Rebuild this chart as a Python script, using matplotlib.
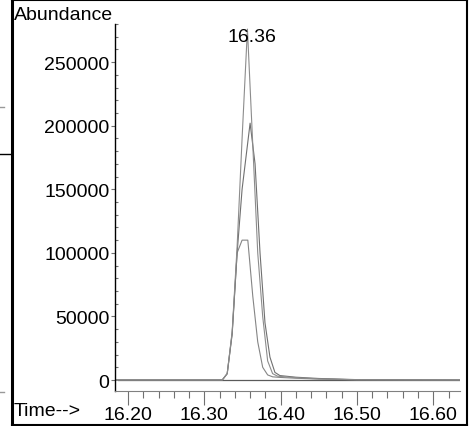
import matplotlib

matplotlib.use("Agg")
import matplotlib.pyplot as plt
from matplotlib.lines import Line2D
from matplotlib.ticker import MultipleLocator

plt.rcParams["font.family"] = ["Liberation Sans", "DejaVu Sans"]

# extracted ion traces: scan time (min) and abundance
tall_t = [16.183, 16.3235, 16.3300, 16.3365, 16.3430, 16.3495, 16.3565,
          16.3635, 16.3700, 16.3765, 16.3830, 16.3895, 16.3960, 16.420,
          16.450, 16.500, 16.635]
tall_y = [0, 0, 5000, 38000, 105000, 190000, 276000,
          185000, 100000, 50000, 15000, 5000, 3000, 1800,
          900, 200, 0]
mid_t = [16.183, 16.3235, 16.3300, 16.3365, 16.3430, 16.3495, 16.3600,
         16.3665, 16.3730, 16.3795, 16.3860, 16.3925, 16.3990, 16.420,
         16.450, 16.500, 16.635]
mid_y = [0, 0, 5000, 36000, 100000, 150000, 202000,
         170000, 100000, 45000, 18000, 6000, 3500, 2200,
         1200, 300, 0]
low_t = [16.183, 16.3235, 16.3300, 16.3365, 16.3430, 16.3495, 16.3570,
         16.3635, 16.3700, 16.3765, 16.3830, 16.3895, 16.4000, 16.420,
         16.450, 16.500, 16.635]
low_y = [0, 0, 5000, 37000, 100000, 110000, 110000,
         66000, 30000, 10000, 4000, 2500, 2000, 1400,
         700, 200, 0]
peak_label = "16.36"
peak_time = 16.363
peak_height = 270000

fig = plt.figure(figsize=(4.69, 4.27), dpi=100)
ax = fig.add_axes([115 / 469, 35 / 427, 345 / 469, 367 / 427])

ax.axhline(0, xmin=0.01, color="#5a5a5a", lw=0.9)
ax.plot(low_t, low_y, color="#858585", lw=0.8)
ax.plot(mid_t, mid_y, color="#707070", lw=0.8)
ax.plot(tall_t, tall_y, color="#8c8c8c", lw=0.8)
ax.text(peak_time, peak_height, peak_label, ha="center", va="center", fontsize=14)

ax.set_xlim(16.183, 16.635)
ax.set_ylim(-8650, 280000)
ax.xaxis.set_minor_locator(MultipleLocator(0.02))
ax.yaxis.set_minor_locator(MultipleLocator(10000))
ax.set_xticks([16.2, 16.3, 16.4, 16.5, 16.6], ["16.20", "16.30", "16.40", "16.50", "16.60"])
ax.set_yticks([0, 50000, 100000, 150000, 200000, 250000],
              ["0", "50000", "100000", "150000", "200000", "250000"])
ax.tick_params(axis="x", which="major", length=10, width=0.8, color="#707070", labelsize=14, pad=1)
ax.tick_params(axis="x", which="minor", length=5, width=0.8, color="#707070")
ax.tick_params(axis="y", which="major", length=3, width=0.8, color="#707070", labelsize=14, pad=1)
ax.tick_params(axis="y", which="minor", length=2, width=0.8, color="#707070", direction="in")
for side in ("top", "right"):
    ax.spines[side].set_visible(False)
ax.spines["left"].set_color("black")
ax.spines["left"].set_linewidth(1.0)
ax.spines["bottom"].set_color("#808080")
ax.spines["bottom"].set_linewidth(0.8)

fig.text(14 / 469, 1 - 15 / 427, "Abundance", ha="left", va="center", fontsize=14)
fig.text(14 / 469, 1 - 412 / 427, "Time-->", ha="left", va="center", fontsize=14)

# surrounding frame of the screenshot
frame = [
    ([11.5 / 469, 11.5 / 469], [0, 1], "black", 2.2),
    ([11.5 / 469, 467 / 469], [1 - 1 / 427, 1 - 1 / 427], "black", 1.5),
    ([466.5 / 469, 466.5 / 469], [0, 1], "black", 1.5),
    ([11.5 / 469, 467 / 469], [1.5 / 427, 1.5 / 427], "black", 1.5),
    ([0, 11 / 469], [1 - 155 / 427, 1 - 155 / 427], "black", 1.0),
    ([0, 4 / 469], [1 - 108 / 427, 1 - 108 / 427], "#999999", 1.0),
    ([0, 4 / 469], [1 - 393 / 427, 1 - 393 / 427], "#999999", 1.0),
]
for xs, ys, color, lw in frame:
    fig.add_artist(Line2D(xs, ys, color=color, lw=lw, transform=fig.transFigure))

fig.savefig("out.png", dpi=100)
plt.close(fig)
